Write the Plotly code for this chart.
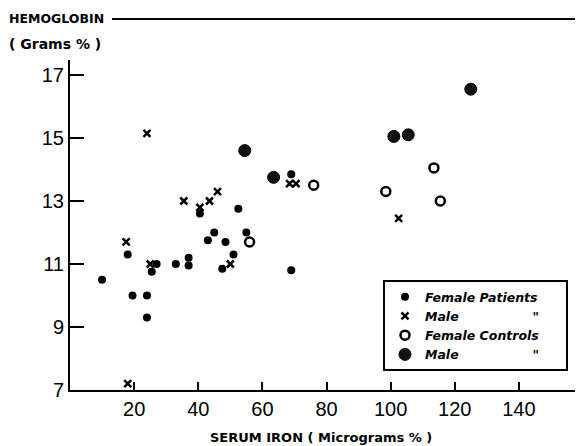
import plotly.graph_objects as go

# Female patients (filled dots)
fp_x = [10, 18, 19.5, 24, 24, 25.5, 27, 33, 37, 37, 40.5, 43, 45, 47.5, 48.5, 51, 52.5, 55, 69, 69]
fp_y = [10.5, 11.3, 10.0, 10.0, 9.3, 10.75, 11.0, 11.0, 11.2, 10.95, 12.6, 11.75, 12.0, 10.85, 11.7, 11.3, 12.75, 12.0, 13.85, 10.8]
# Male patients (x)
mp_x = [17.5, 18, 24, 25, 35.5, 40.5, 43.5, 46, 50, 68.5, 70.5, 102.5]
mp_y = [11.7, 7.2, 15.15, 11.0, 13.0, 12.8, 13.0, 13.3, 11.0, 13.55, 13.55, 12.45]
# Female controls (open circles)
fc_x = [56, 76, 98.5, 113.5, 115.5]
fc_y = [11.7, 13.5, 13.3, 14.05, 13.0]
# Male controls (large dotted circles)
mc_x = [54.5, 63.5, 101, 105.5, 125]
mc_y = [14.6, 13.75, 15.05, 15.1, 16.55]

x_ticks = [20, 40, 60, 80, 100, 120, 140]
y_ticks = [7, 9, 11, 13, 15, 17]

NB = "\u00a0"
names = ["Female Patients", "Male" + NB * 17 + '"' + NB * 5,
         "Female Controls", "Male" + NB * 17 + '"' + NB * 5]

FONT = "DejaVu Sans"
TICKFONT = "Liberation Sans"

fig = go.Figure()
fig.add_trace(go.Scatter(x=fp_x, y=fp_y, mode="markers", name=names[0],
                         marker=dict(symbol="circle", size=8, color="black")))
fig.add_trace(go.Scatter(x=mp_x, y=mp_y, mode="markers", name=names[1],
                         marker=dict(symbol="x-thin", size=7, color="black",
                                     line=dict(width=2.5, color="black"))))
fig.add_trace(go.Scatter(x=fc_x, y=fc_y, mode="markers", name=names[2],
                         marker=dict(symbol="circle-open", size=9, color="black",
                                     line=dict(width=2.5, color="black"))))
fig.add_trace(go.Scatter(x=mc_x, y=mc_y, mode="markers", name=names[3],
                         marker=dict(symbol="circle", size=12, color="#111111",
                                     line=dict(width=1, color="black"))))

# page body has an 8px margin; figure is laid out in reference pixels minus 8
OFF = 8
X0, Y0 = 70, 390          # reference pixel of origin (x=0, y=7)
YTOP = 60                 # reference pixel of top of y axis
W, H = 583 - OFF, 446 - OFF
L = X0 - OFF
R = 0
T = YTOP - OFF
B = H - (Y0 - OFF)
pw, ph = W - L - R, H - T - B

def px(xr):
    return (xr - X0) / pw

def py(yr):
    return (Y0 - yr) / ph

fig.update_layout(
    width=W, height=H,
    margin=dict(l=L, r=R, t=T, b=B, pad=0),
    paper_bgcolor="white", plot_bgcolor="white",
    font=dict(family=FONT, color="black"),
    showlegend=True,
    legend=dict(x=px(383), y=py(280), xanchor="left", yanchor="top",
                bordercolor="black", borderwidth=2, bgcolor="white",
                font=dict(size=12.5, family=FONT, style="italic", weight="bold"),
                tracegroupgap=0, itemwidth=30),
    xaxis=dict(range=[0, 160], showgrid=False, zeroline=False, showline=True,
               linecolor="black", linewidth=2, ticks="inside", ticklen=8,
               tickwidth=2, tickcolor="black", tickvals=x_ticks,
               tickfont=dict(size=20, family=TICKFONT)),
    yaxis=dict(range=[7, 7 + ph / 31.5], showgrid=False, zeroline=False, showline=True,
               linecolor="black", linewidth=2, ticks="inside", ticklen=14,
               tickwidth=2, tickcolor="black", tickvals=y_ticks, ticksuffix=NB,
               tickfont=dict(size=20, family=TICKFONT)),
    shapes=[dict(type="line", xref="paper", yref="paper",
                 x0=px(112), x1=1.0, y0=py(19), y1=py(19),
                 line=dict(color="black", width=2))],
    annotations=[
        dict(text="<b>HEMOGLOBIN</b>", xref="paper", yref="paper",
             x=px(8), y=py(19), xanchor="left", yanchor="middle", borderpad=0,
             showarrow=False, font=dict(size=12.5, family=FONT)),
        dict(text="<b>( Grams % )</b>", xref="paper", yref="paper",
             x=px(8), y=py(44), xanchor="left", yanchor="middle", borderpad=0,
             showarrow=False, font=dict(size=14, family=FONT)),
        dict(text="<b>SERUM IRON ( Micrograms % )</b>", xref="paper", yref="paper",
             x=px(321), y=py(437), xanchor="center", yanchor="middle",
             showarrow=False, font=dict(size=13, family=FONT)),
    ],
)

fig.write_html("out.html")
